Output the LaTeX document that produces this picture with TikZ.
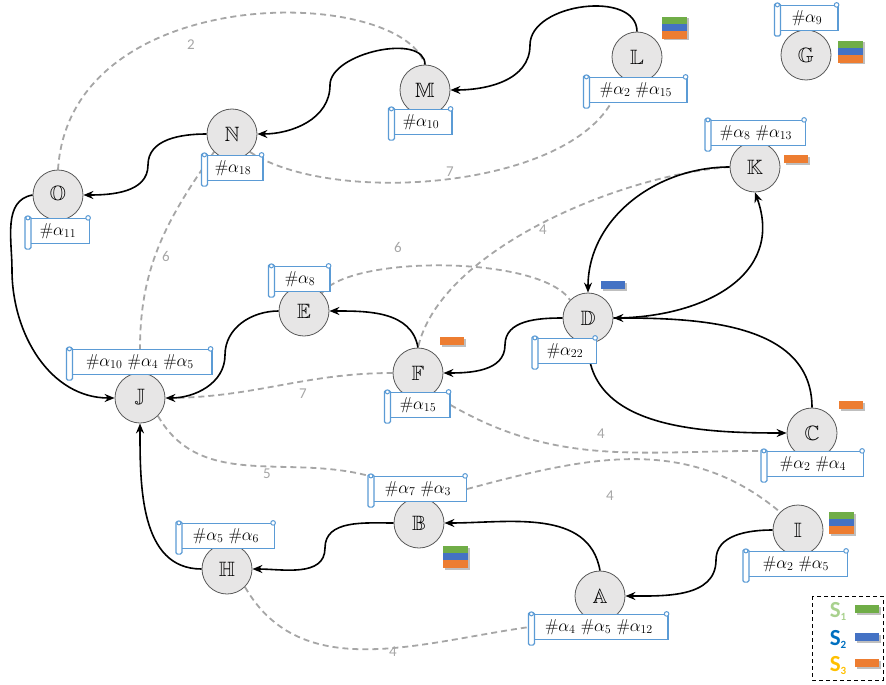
\documentclass[tikz,border=0pt]{standalone}
\usepackage{amssymb}
\usepackage{fontspec}
\newfontfamily\calib{Carlito}
\usetikzlibrary{arrows.meta,calc}

\definecolor{nodefill}{HTML}{E7E6E6}
\definecolor{nodeline}{HTML}{595959}
\definecolor{scrollblue}{HTML}{5B9BD5}
\definecolor{dashgray}{HTML}{A6A6A6}
\definecolor{sgreen}{HTML}{70AD47}
\definecolor{sblue}{HTML}{4472C4}
\definecolor{sorange}{HTML}{ED7D31}
\definecolor{lgreen}{HTML}{A9D18E}
\definecolor{lblue}{HTML}{0070C0}
\definecolor{lgold}{HTML}{FFC000}

\pgfdeclarelayer{edges}
\pgfsetlayers{edges,main}

\tikzset{
  vertex/.style={circle, draw=nodeline, fill=nodefill, line width=0.8pt,
    minimum size=50pt, inner sep=0pt, font=\fontsize{20.74}{21}\selectfont},
  tag/.style={draw=scrollblue, fill=white, line width=1.2pt, minimum height=25pt,
    minimum width=#1, inner sep=0pt, font=\fontsize{17.28}{20}\selectfont},
  flow/.style={line width=1.6pt, -{Stealth[length=10pt,width=8pt]}},
  link/.style={dashgray, line width=1.8pt, dash pattern=on 6pt off 4pt},
  weight/.style={text=dashgray, font=\calib\fontsize{15}{15}\selectfont},
  barshadow/.style={fill=black, opacity=0.25},
  legendtext/.style={font=\calib\bfseries\fontsize{23}{23}\selectfont}
}

% rolled left edge and top-right knob of a scroll tag
\newcommand\tagcurls[1]{%
  \draw[draw=scrollblue, fill=white, line width=1.2pt, rounded corners=1.5pt]
    ([xshift=-1pt,yshift=1.5pt]#1.north west) rectangle ([xshift=5pt,yshift=-5pt]#1.south west);
  \draw[draw=scrollblue, fill=white, line width=1pt]
    ([xshift=2pt]#1.north west) circle (2pt);
  \draw[draw=scrollblue, fill=white, line width=1pt]
    ([xshift=-2pt]#1.north east) circle (2.3pt);
}

% three stacked state bars, anchored at their top-left corner
\newcommand\stackbars[1]{%
  \begin{scope}[shift={#1}]
    \fill[barshadow] (1.5,-1.5) rectangle (26.5,-23.5);
    \fill[sgreen] (0,0) rectangle (25,-8);
    \fill[sblue] (0,-7) rectangle (25,-15);
    \fill[sorange] (0,-14) rectangle (25,-22);
  \end{scope}}

% a single state bar, anchored at its top-left corner
\newcommand\onebar[2]{%
  \begin{scope}[shift={#1}]
    \fill[barshadow] (1.5,-1.5) rectangle (25.5,-9.5);
    \fill[#2] (0,0) rectangle (24,-8);
  \end{scope}}

\begin{document}
\begin{tikzpicture}[x=1pt,y=1pt]
\useasboundingbox (0,0) rectangle (886,-685);

% vertices
\node[vertex] (L) at (637,-57) {$\mathbb{L}$};
\node[vertex] (G) at (806,-55) {$\mathbb{G}$};
\node[vertex] (M) at (425,-90) {$\mathbb{M}$};
\node[vertex] (N) at (232,-134) {$\mathbb{N}$};
\node[vertex] (O) at (58,-195) {$\mathbb{O}$};
\node[vertex] (K) at (755,-167) {$\mathbb{K}$};
\node[vertex] (E) at (304,-311) {$\mathbb{E}$};
\node[vertex] (D) at (588,-318) {$\mathbb{D}$};
\node[vertex] (F) at (418,-373) {$\mathbb{F}$};
\node[vertex] (J) at (140,-398) {$\mathbb{J}$};
\node[vertex] (C) at (812,-433) {$\mathbb{C}$};
\node[vertex] (B) at (419,-523) {$\mathbb{B}$};
\node[vertex] (I) at (798,-530) {$\mathbb{I}$};
\node[vertex] (H) at (227,-569) {$\mathbb{H}$};
\node[vertex] (A) at (600,-596) {$\mathbb{A}$};

% scroll tags
\node[tag=102pt] (Lb) at (636,-90) {$\#\alpha_{2}$ $\#\alpha_{15}$};
\node[tag=62pt]  (Gb) at (807,-18) {$\#\alpha_{9}$};
\node[tag=62pt]  (Mb) at (421,-122) {$\#\alpha_{10}$};
\node[tag=60pt]  (Nb) at (233,-168) {$\#\alpha_{18}$};
\node[tag=63pt]  (Ob) at (58,-231) {$\#\alpha_{11}$};
\node[tag=99pt]  (Kb) at (756,-133) {$\#\alpha_{8}$ $\#\alpha_{13}$};
\node[tag=60pt]  (Eb) at (300,-279) {$\#\alpha_{8}$};
\node[tag=63pt]  (Db) at (565,-351) {$\#\alpha_{22}$};
\node[tag=64pt]  (Fb) at (418,-405) {$\#\alpha_{15}$};
\node[tag=144pt] (Jb) at (140,-362) {$\#\alpha_{10}$ $\#\alpha_{4}$ $\#\alpha_{5}$};
\node[tag=101pt] (Cb) at (813,-464) {$\#\alpha_{2}$ $\#\alpha_{4}$};
\node[tag=97pt]  (Bb) at (418,-489) {$\#\alpha_{7}$ $\#\alpha_{3}$};
\node[tag=97pt]  (Hb) at (226,-536) {$\#\alpha_{5}$ $\#\alpha_{6}$};
\node[tag=103pt] (Ib) at (796,-564) {$\#\alpha_{2}$ $\#\alpha_{5}$};
\node[tag=138pt] (Ab) at (599,-627) {$\#\alpha_{4}$ $\#\alpha_{5}$ $\#\alpha_{12}$};
\foreach \t in {Lb,Gb,Mb,Nb,Ob,Kb,Eb,Db,Fb,Jb,Cb,Bb,Hb,Ib,Ab}{\tagcurls{\t}}

% state bars
\stackbars{(662,-17)}
\stackbars{(838,-41)}
\stackbars{(443,-546)}
\stackbars{(829,-512)}
\onebar{(784,-155)}{sorange}
\onebar{(601,-281)}{sblue}
\onebar{(440,-337)}{sorange}
\onebar{(839,-401)}{sorange}

% legend
\draw[line width=1pt, dash pattern=on 4pt off 3pt] (812,-596) rectangle (883,-680);
\node[legendtext, text=lgreen] (s1) at (838,-611) {S\raisebox{-3pt}{\fontsize{11}{11}\selectfont 1}};
\node[legendtext, text=lblue]  (s2) at (838,-639) {S\raisebox{-3pt}{\fontsize{11}{11}\selectfont 2}};
\node[legendtext, text=lgold]  (s3) at (838,-665) {S\raisebox{-3pt}{\fontsize{11}{11}\selectfont 3}};
\onebar{(855,-605)}{sgreen}
\onebar{(855,-633)}{sblue}
\onebar{(855,-659)}{sorange}

% waypoints of the elbow-shaped connectors
\coordinate (w1) at (530,-45);
\coordinate (w2) at (330,-85);
\coordinate (w3) at (148,-165);
\coordinate (w4) at (12,-270);
\coordinate (w5) at (225,-355);
\coordinate (w6) at (505,-345);
\coordinate (w7) at (716,-560);
\coordinate (w8) at (325,-548);
\coordinate (lend) at ($(Lb.south)+(-25,0)$);

\begin{pgfonlayer}{edges}
  % dashed weighted links
  \draw[link] (O.north) .. controls (70,20) and (400,15) .. (M.north);
  \node[weight] (n2) at (191,-45) {2};
  \draw[link] (N.south east) .. controls (330,-205) and (560,-190) .. (lend);
  \node[weight] (n7a) at (450,-172) {7};
  \draw[link] (N.south west) to[out=-125,in=90] (Jb.north);
  \node[weight] (n6a) at (166,-256) {6};
  \draw[link] (K.west) .. controls (620,-175) and (440,-250) .. (F.north);
  \node[weight] (n4a) at (543,-230) {4};
  \draw[link] (E.north east) .. controls (350,-255) and (540,-255) .. (D.north west);
  \node[weight] (n6b) at (398,-247) {6};
  \draw[link] (F.west) to[out=180,in=0] (J.east);
  \node[weight] (n7b) at (303,-394) {7};
  \draw[link] (Fb.east) to[out=-30,in=180] (Cb.north west);
  \node[weight] (n4b) at (601,-434) {4};
  \draw[link] (J.south east) to[out=-60,in=165] (Bb.north west);
  \node[weight] (n5) at (267,-474) {5};
  \draw[link] (Bb.east) to[out=15,in=140] (I.north west);
  \node[weight] (n4c) at (610,-496) {4};
  \draw[link] (H.south east) to[out=-60,in=188] (Ab.west);
  \node[weight] (n4d) at (393,-652) {4};

  % directed connectors
  \draw[flow] (L.north) to[out=90,in=90] (w1) to[out=-90,in=0] (M.east);
  \draw[flow] (M.north) to[out=90,in=90,looseness=0.85] (w2) to[out=-90,in=0] (N.east);
  \draw[flow] (N.west) to[out=180,in=90] (w3) to[out=-90,in=0] (O.east);
  \draw[flow] (O.west) to[out=190,in=90] (w4) to[out=-90,in=180] (J.west);
  \draw[flow] (E.west) to[out=180,in=90] (w5) to[out=-90,in=0] (J.east);
  \draw[flow] (F.north) to[out=100,in=0] (E.east);
  \draw[flow] (D.west) to[out=180,in=90] (w6) to[out=-90,in=0] (F.east);
  \draw[flow] (K.west) to[out=180,in=90] (D.north);
  \draw[flow] (D.east) to[out=0,in=-70,looseness=1.2] (K.south);
  \draw[flow] (C.north) to[out=90,in=0] (D.east);
  \draw[flow] (D.south) to[out=-90,in=180] (C.west);
  \draw[flow] (A.north) to[out=100,in=0] (B.east);
  \draw[flow] (I.west) to[out=180,in=90] (w7) to[out=-90,in=0] (A.east);
  \draw[flow] (B.west) to[out=180,in=90] (w8) to[out=-90,in=0] (H.east);
  \draw[flow] (H.west) to[out=180,in=-90] (J.south);
\end{pgfonlayer}
\end{tikzpicture}
\end{document}
